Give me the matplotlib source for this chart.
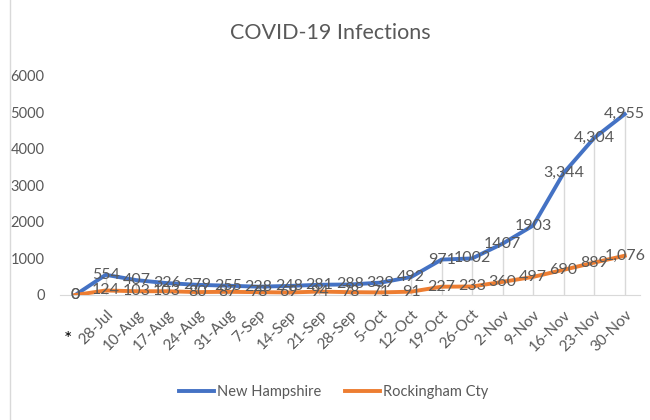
'COVID-19 infections line chart'

import matplotlib
matplotlib.use('Agg')
import matplotlib.pyplot as plt
from matplotlib.lines import Line2D

plt.rcParams['font.family'] = ['Lato', 'DejaVu Sans']

# data
dates = ['*', '28-Jul', '10-Aug', '17-Aug', '24-Aug', '31-Aug', '7-Sep', '14-Sep',
         '21-Sep', '28-Sep', '5-Oct', '12-Oct', '19-Oct', '26-Oct', '2-Nov',
         '9-Nov', '16-Nov', '23-Nov', '30-Nov']
new_hampshire = [0, 554, 407, 326, 279, 255, 228, 248, 281, 288, 339, 492,
                 971, 1002, 1407, 1903, 3344, 4304, 4955]
rockingham = [0, 124, 103, 103, 80, 87, 78, 69, 94, 78, 71, 91,
              227, 233, 360, 497, 690, 889, 1076]
nh_labels = ['0', '554', '407', '326', '279', '255', '228', '248', '281', '288',
             '339', '492', '971', '1002', '1407', '1903', '3,344', '4,304', '4,955']
rc_labels = ['0', '124', '103', '103', '80', '87', '78', '69', '94', '78',
             '71', '91', '227', '233', '360', '497', '690', '889', '1,076']

blue = '#4472C4'
orange = '#ED7D31'
text_gray = '#595959'

fig = plt.figure(figsize=(6.5, 4.2), dpi=100)
ax = fig.add_axes([60/650, 1 - 295/420, 580/650, 219/420])

x = list(range(len(dates)))

# drop lines from the top series
ax.vlines(x, 0, new_hampshire, colors='#D9D9D9', lw=1, zorder=1)

ax.plot(x, new_hampshire, color=blue, lw=2.8, label='New Hampshire', zorder=3)
ax.plot(x, rockingham, color=orange, lw=2.8, label='Rockingham Cty', zorder=3)

for xi, yi, s in zip(x, new_hampshire, nh_labels):
    ax.text(xi, yi, s, ha='center', va='center', fontsize=11.5, color=text_gray, zorder=4)
for xi, yi, s in zip(x, rockingham, rc_labels):
    ax.text(xi, yi, s, ha='center', va='center', fontsize=11.5, color=text_gray, zorder=4)

ax.set_xlim(-0.5, len(dates) - 0.5)
ax.set_ylim(0, 6000)
ax.set_yticks(range(0, 7000, 1000))
ax.set_xticks(x)
ax.set_xticklabels(dates, rotation=45, ha='right', rotation_mode='anchor',
                   fontsize=11, color=text_gray)
# the first category label is drawn upright and lower
ax.get_xticklabels()[0].set_visible(False)
ax.annotate(dates[0], xy=(0, 0), xytext=(-5, -32), textcoords='offset points',
            ha='center', va='center', fontsize=14, color='black')
for lbl in ax.get_yticklabels():
    lbl.set_color(text_gray)
    lbl.set_fontsize(10.5)

for side in ['top', 'right', 'left']:
    ax.spines[side].set_visible(False)
ax.spines['bottom'].set_color('#D9D9D9')
ax.tick_params(length=0)
ax.tick_params(axis='x', pad=9)
ax.tick_params(axis='y', pad=11)

fig.text(0.508, 1 - 33/420, 'COVID-19 Infections', ha='center', va='center',
         fontsize=15.5, color=text_gray)

ax.legend(loc='center', bbox_to_anchor=(0.513, 1 - 392/420), bbox_transform=fig.transFigure,
          ncol=2, frameon=False, fontsize=10.5, labelcolor=text_gray,
          handlelength=2.4, handletextpad=0.2, columnspacing=1.6)

# chart border on the left
fig.add_artist(Line2D([10/650, 10/650], [0, 1], color='#D9D9D9', lw=1))

fig.savefig('out.png', dpi=100)
